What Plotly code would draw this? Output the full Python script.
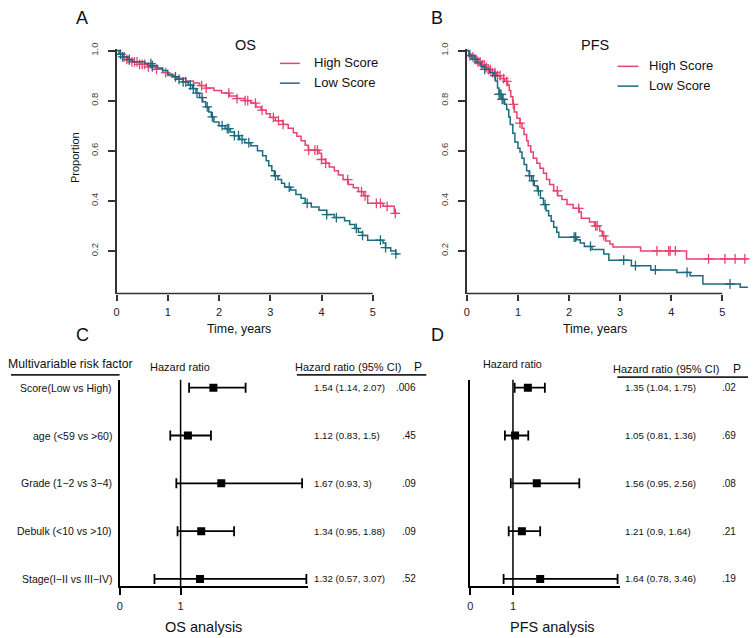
import numpy as np
import plotly.graph_objects as go

W, H = 754, 638
PINK = "#E8436E"
TEAL = "#1C6B7E"
FONT = "Liberation Sans, Arial, sans-serif"

# ---------------- Kaplan-Meier data ----------------
km_end = 5.5
os_high_t = [0.05, 0.12, 0.2, 0.3, 0.45, 0.6, 0.75, 0.9, 1.0, 1.15, 1.35, 1.5, 1.62, 1.75, 1.9,
             2.05, 2.2, 2.35, 2.5, 2.62, 2.72, 2.82, 2.92, 3.0, 3.1, 3.25, 3.35, 3.45, 3.52, 3.6,
             3.68, 3.74, 3.95, 4.0, 4.08, 4.15, 4.25, 4.33, 4.42, 4.52, 4.62, 4.72, 4.82, 4.9, 5.2, 5.42]
os_high_s = [0.985, 0.975, 0.965, 0.955, 0.945, 0.935, 0.925, 0.912, 0.9, 0.888, 0.878, 0.87, 0.86, 0.85, 0.84,
             0.83, 0.818, 0.808, 0.8, 0.79, 0.775, 0.762, 0.748, 0.733, 0.72, 0.705, 0.69, 0.672, 0.658, 0.64,
             0.622, 0.602, 0.59, 0.565, 0.55, 0.535, 0.52, 0.503, 0.485, 0.465, 0.452, 0.437, 0.42, 0.39, 0.378, 0.35]
os_high_cens = [0.15, 0.2, 0.25, 0.3, 0.35, 0.4, 0.45, 0.5, 0.55, 0.62, 0.7, 0.78, 0.96, 1.66, 1.75, 2.19,
                2.35, 2.51, 2.56, 2.71, 2.84, 3.06, 3.16, 3.25, 3.75, 3.87, 3.92, 4.0, 4.08, 4.51, 4.78,
                4.85, 5.07, 5.15, 5.28, 5.44]

os_low_t = [0.05, 0.12, 0.22, 0.3, 0.55, 0.7, 0.8, 0.9, 1.0, 1.1, 1.2, 1.3, 1.4, 1.48, 1.55, 1.62, 1.68,
            1.74, 1.8, 1.85, 1.9, 2.0, 2.12, 2.22, 2.3, 2.4, 2.5, 2.62, 2.75, 2.85, 2.92, 2.97, 3.03, 3.08,
            3.15, 3.22, 3.28, 3.4, 3.5, 3.6, 3.68, 3.8, 3.95, 4.1, 4.25, 4.45, 4.55, 4.65, 4.72, 4.8, 4.9,
            5.2, 5.25, 5.35, 5.45]
os_low_s = [0.985, 0.975, 0.963, 0.955, 0.948, 0.94, 0.93, 0.92, 0.905, 0.895, 0.885, 0.875, 0.862, 0.848,
            0.83, 0.812, 0.795, 0.775, 0.755, 0.735, 0.715, 0.7, 0.688, 0.675, 0.66, 0.645, 0.632, 0.62, 0.6,
            0.58, 0.56, 0.54, 0.52, 0.5, 0.485, 0.47, 0.455, 0.443, 0.425, 0.41, 0.39, 0.375, 0.362, 0.345,
            0.333, 0.32, 0.305, 0.29, 0.275, 0.262, 0.243, 0.232, 0.213, 0.2, 0.188]
os_low_cens = [0.08, 0.12, 0.25, 0.67, 0.7, 1.15, 1.22, 1.3, 1.35, 1.44, 1.5, 1.57, 1.67, 1.77, 1.87, 2.06,
               2.16, 2.19, 2.3, 2.38, 2.45, 2.58, 3.1, 3.37, 3.72, 4.1, 4.29, 4.68, 4.8, 5.15, 5.25, 5.45]

pfs_high_t = [0.05, 0.1, 0.16, 0.22, 0.29, 0.36, 0.42, 0.5, 0.58, 0.66, 0.74, 0.8, 0.83, 0.86, 0.9, 0.93,
              0.98, 1.04, 1.08, 1.12, 1.17, 1.2, 1.25, 1.3, 1.37, 1.43, 1.5, 1.56, 1.62, 1.7, 1.78, 1.86,
              1.96, 2.08, 2.2, 2.24, 2.4, 2.5, 2.6, 2.65, 2.72, 2.8, 2.86, 3.4, 4.3]
pfs_high_s = [0.985, 0.975, 0.965, 0.955, 0.943, 0.933, 0.924, 0.912, 0.9, 0.888, 0.877, 0.862, 0.84, 0.815,
              0.785, 0.755, 0.73, 0.71, 0.69, 0.665, 0.64, 0.62, 0.595, 0.57, 0.55, 0.53, 0.51, 0.485, 0.465,
              0.44, 0.42, 0.405, 0.385, 0.37, 0.355, 0.33, 0.315, 0.3, 0.28, 0.26, 0.24, 0.228, 0.216, 0.2, 0.168]
pfs_high_cens = [0.12, 0.18, 0.22, 0.26, 0.3, 0.34, 0.38, 0.42, 0.46, 0.5, 0.55, 0.6, 0.65, 0.72, 0.78, 0.91,
                 1.04, 1.77, 2.19, 2.52, 2.55, 2.68, 3.72, 3.95, 3.98, 4.08, 4.73, 5.05, 5.25, 5.44]

pfs_low_t = [0.04, 0.1, 0.2, 0.28, 0.35, 0.45, 0.52, 0.56, 0.6, 0.63, 0.68, 0.74, 0.78, 0.82, 0.85, 0.9,
             0.94, 1.0, 1.04, 1.08, 1.12, 1.17, 1.22, 1.27, 1.32, 1.38, 1.44, 1.5, 1.55, 1.6, 1.65, 1.7, 1.76,
             1.8, 2.15, 2.22, 2.3, 2.45, 2.68, 2.78, 3.22, 3.6, 4.11, 4.37, 4.62, 5.35]
pfs_low_s = [0.98, 0.965, 0.95, 0.935, 0.925, 0.912, 0.9, 0.878, 0.85, 0.825, 0.805, 0.785, 0.765, 0.735,
             0.705, 0.67, 0.635, 0.61, 0.595, 0.57, 0.545, 0.52, 0.5, 0.48, 0.46, 0.44, 0.41, 0.385, 0.36,
             0.34, 0.318, 0.295, 0.275, 0.255, 0.245, 0.232, 0.218, 0.206, 0.188, 0.163, 0.141, 0.124, 0.114,
             0.101, 0.068, 0.055]
pfs_low_cens = [0.06, 0.16, 0.35, 0.55, 0.63, 0.65, 0.67, 0.69, 0.71, 1.23, 1.3, 1.4, 1.53, 2.1, 2.13, 2.42,
                3.07, 3.3, 3.69, 4.31, 5.15]

km_xticks = [0, 1, 2, 3, 4, 5]
km_yticks = [0.2, 0.4, 0.6, 0.8, 1.0]
km_yticktext = ["0.2", "0.4", "0.6", "0.8", "1.0"]
series_names = ["High Score", "Low Score"]

# ---------------- Forest plot data ----------------
risk_factors = ["Score(Low vs High)", "age (<59 vs >60)", "Grade (1\u22122 vs 3\u22124)",
                "Debulk (<10 vs >10)", "Stage(I\u2212II vs III\u2212IV)"]
os_hr = [1.54, 1.12, 1.67, 1.34, 1.32]
os_lo = [1.14, 0.83, 0.93, 0.95, 0.57]
os_hi = [2.07, 1.5, 3.0, 1.88, 3.07]
os_p = [".006", ".45", ".09", ".09", ".52"]
pfs_hr = [1.35, 1.05, 1.56, 1.21, 1.64]
pfs_lo = [1.04, 0.81, 0.95, 0.9, 0.78]
pfs_hi = [1.75, 1.36, 2.56, 1.64, 3.46]
pfs_p = [".02", ".69", ".08", ".21", ".19"]
forest_ticks = [0, 1]
rows = [5, 4, 3, 2, 1]

# ---------------- layout geometry (pixels) ----------------
def px(x):
    return x / W

def py(y):
    return 1 - y / H

km_xrange = [0, 5.6]
km_yrange = [0.03, 1.005]
km_ydom = [py(289.7), py(297.3 - 253.3 * km_yrange[1])]
A_xdom = [px(114), px(114 + 5.6 * 51.45)]
B_xdom = [px(465.7), px(465.7 + 5.6 * 51.3)]

fr_yrange = [0.847, 5.17]
fr_ydom = [py(585.7), py(376.7)]
C_xrange = [0, 3.105]
C_xdom = [px(117.3), px(117.3 + 3.105 * 61.0)]
D_xrange = [0, 3.506]
D_xdom = [px(469.3), px(619.0)]


def km_trace(t, s, color, xa, ya):
    tt = [0] + list(t) + [km_end]
    ss = [1.0] + list(s) + [s[-1]]
    return go.Scatter(x=tt, y=ss, mode="lines", line=dict(color=color, width=1.5, shape="hv"),
                      xaxis=xa, yaxis=ya, hoverinfo="skip")


def cens_trace(t, s, cens, color, xa, ya):
    tt = np.array([0] + list(t))
    ss = np.array([1.0] + list(s))
    c = np.array(cens)
    idx = np.searchsorted(tt, c, side="right") - 1
    return go.Scatter(x=c, y=ss[idx], mode="markers",
                      marker=dict(symbol="cross-thin", size=7, line=dict(color=color, width=1.3)),
                      xaxis=xa, yaxis=ya, hoverinfo="skip")


fig = go.Figure()
for (t, s, c, col, xa, ya) in [
    (os_high_t, os_high_s, os_high_cens, PINK, "x", "y"),
    (os_low_t, os_low_s, os_low_cens, TEAL, "x", "y"),
    (pfs_high_t, pfs_high_s, pfs_high_cens, PINK, "x2", "y2"),
    (pfs_low_t, pfs_low_s, pfs_low_cens, TEAL, "x2", "y2"),
]:
    fig.add_trace(km_trace(t, s, col, xa, ya))
    fig.add_trace(cens_trace(t, s, c, col, xa, ya))

for hr, lo, hi, xa, ya in [(os_hr, os_lo, os_hi, "x3", "y3"), (pfs_hr, pfs_lo, pfs_hi, "x4", "y4")]:
    fig.add_trace(go.Scatter(
        x=hr, y=rows, mode="markers",
        marker=dict(symbol="square", size=8, color="black"),
        error_x=dict(type="data", symmetric=False,
                     array=[h - m for h, m in zip(hi, hr)],
                     arrayminus=[m - l for m, l in zip(hr, lo)],
                     color="black", thickness=1.8, width=5),
        xaxis=xa, yaxis=ya, hoverinfo="skip"))

km_x = dict(range=km_xrange, showgrid=False, zeroline=False, showline=False,
            tickvals=km_xticks, ticks="outside", ticklen=6, tickwidth=1.5, tickcolor="#333",
            tickfont=dict(size=11, color="#222", family=FONT), ticklabelstandoff=2)
km_y = dict(range=km_yrange, domain=km_ydom, showgrid=False, zeroline=False, showline=True,
            linecolor="#333", linewidth=1.5,
            tickvals=km_yticks, ticktext=km_yticktext, ticks="outside", ticklen=7, tickwidth=1.5,
            tickcolor="#333", tickangle=-90, tickfont=dict(size=9.5, color="#444", family=FONT),
            ticklabelstandoff=6)
fr_x = dict(showgrid=False, zeroline=False, showline=True, linecolor="black", linewidth=1.5,
            tickvals=forest_ticks, ticks="outside", ticklen=7, tickwidth=1.5, tickcolor="black",
            tickfont=dict(size=11, color="#222", family=FONT), ticklabelstandoff=2)
fr_y = dict(range=fr_yrange, domain=fr_ydom, showgrid=False, zeroline=False, showline=True,
            linecolor="black", linewidth=1.5, showticklabels=False, ticks="")

fig.update_layout(
    width=W, height=H, margin=dict(l=0, r=0, t=0, b=0),
    paper_bgcolor="white", plot_bgcolor="white", showlegend=False,
    font=dict(family=FONT, color="#111"),
    xaxis=dict(domain=A_xdom, anchor="y", **km_x),
    yaxis=dict(anchor="x", **km_y),
    xaxis2=dict(domain=B_xdom, anchor="y2", **km_x),
    yaxis2=dict(anchor="x2", **km_y),
    xaxis3=dict(domain=C_xdom, range=C_xrange, anchor="y3", **fr_x),
    yaxis3=dict(anchor="x3", **fr_y),
    xaxis4=dict(domain=D_xdom, range=D_xrange, anchor="y4", **fr_x),
    yaxis4=dict(anchor="x4", **fr_y),
)

shapes = []
# KM x-axis lines from 0 to 5
for dom in (A_xdom, B_xdom):
    x0 = dom[0] + (0 - km_xrange[0]) / (km_xrange[1] - km_xrange[0]) * (dom[1] - dom[0])
    x1 = dom[0] + (km_xticks[-1] - km_xrange[0]) / (km_xrange[1] - km_xrange[0]) * (dom[1] - dom[0])
    shapes.append(dict(type="line", xref="paper", yref="paper", x0=x0, x1=x1, y0=km_ydom[0], y1=km_ydom[0],
                       line=dict(color="#333", width=1.5)))
# HR = 1 reference lines
for xa, ya in (("x3", "y3"), ("x4", "y4")):
    shapes.append(dict(type="line", xref=xa, yref=ya, x0=1, x1=1, y0=fr_yrange[0], y1=fr_yrange[1],
                       line=dict(color="black", width=1.5)))
# header underlines
for x0, x1, y in ((8, 117, 372), (295, 425, 372), (616.7, 748, 374.3)):
    shapes.append(dict(type="line", xref="paper", yref="paper", x0=px(x0), x1=px(x1), y0=py(y), y1=py(y),
                       line=dict(color="#222", width=1.8)))
# legend lines
for (x0, x1, y0, y1) in ((278, 298, 57, 77), (617, 638, 60, 80)):
    shapes.append(dict(type="line", xref="paper", yref="paper", x0=px(x0), x1=px(x1), y0=py(y0), y1=py(y0),
                       line=dict(color=PINK, width=1.5)))
    shapes.append(dict(type="line", xref="paper", yref="paper", x0=px(x0), x1=px(x1), y0=py(y1), y1=py(y1),
                       line=dict(color=TEAL, width=1.5)))
fig.update_layout(shapes=shapes)

ann = []


def txt(text, x, y, size, xanchor="center", yref="paper", color="#111", angle=0, family=FONT):
    ann.append(dict(text=text, x=px(x), y=(py(y) if yref == "paper" else y), xref="paper", yref=yref,
                    xanchor=xanchor, yanchor="middle", showarrow=False, textangle=angle,
                    font=dict(size=size, color=color, family=family)))


# panel letters
txt("A", 79, 11, 18)
txt("B", 436, 11, 18)
txt("C", 80, 332, 18)
txt("D", 436, 332, 18)
# KM titles / labels
txt("OS", 243, 38, 14.5)
txt("PFS", 594, 38, 14.5)
txt("Proportion", 73, 152, 11, angle=-90)
txt("Time, years", 237, 326, 12.4)
txt("Time, years", 594, 326, 12.4)
# legends
txt(series_names[0], 310, 56, 13, xanchor="left")
txt(series_names[1], 310, 76, 13, xanchor="left")
txt(series_names[0], 647, 59, 13, xanchor="left")
txt(series_names[1], 647, 79, 13, xanchor="left")
# forest headers
txt("Multivariable risk factor", 3, 361, 12.2, xanchor="left")
txt("Hazard ratio", 178, 364, 11)
txt("Hazard ratio (95% CI)", 291, 364, 11, xanchor="left")
txt("P", 417, 364, 12)
txt("Hazard ratio", 512, 361, 10.8)
txt("Hazard ratio (95% CI)", 610, 365.7, 11, xanchor="left")
txt("P", 736.7, 365.7, 12)
txt("OS analysis", 201.7, 627, 14.5)
txt("PFS analysis", 551.7, 627, 14.5)

for i, r in enumerate(rows):
    txt(risk_factors[i], 111.7, r, 10.5, xanchor="right", yref="y3")
    txt(f"{os_hr[i]:g} ({os_lo[i]:g}, {os_hi[i]:g})", 310, r, 9.7, xanchor="left", yref="y3")
    txt(os_p[i], 417, r, 10, xanchor="right", yref="y3")
    txt(f"{pfs_hr[i]:g} ({pfs_lo[i]:g}, {pfs_hi[i]:g})", 622.5, r, 9.7, xanchor="left", yref="y4")
    txt(pfs_p[i], 737.5, r, 10, xanchor="right", yref="y4")

fig.update_layout(annotations=ann)
fig.write_html("out.html", config={"displayModeBar": False},
               post_script="document.body.style.margin='0px';")
